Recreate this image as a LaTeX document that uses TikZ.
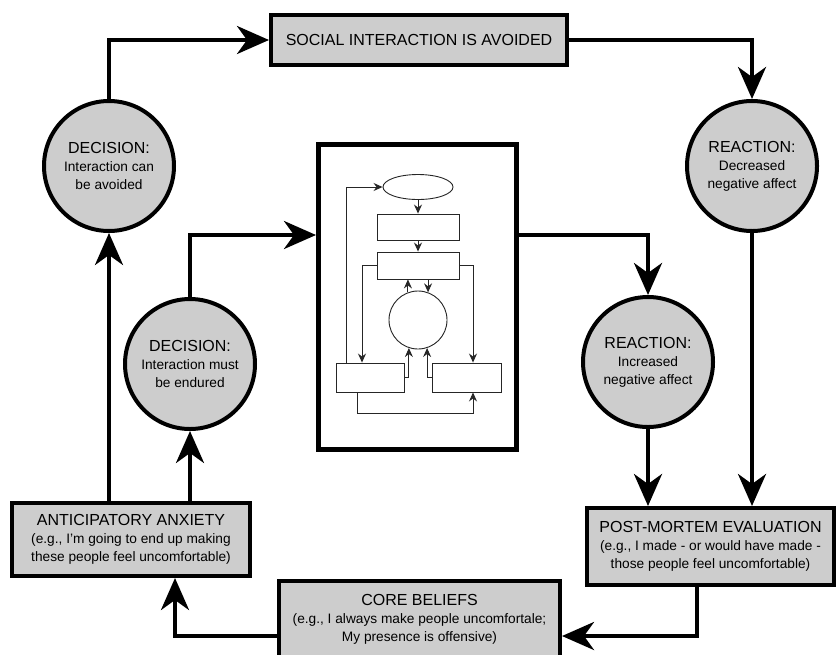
\documentclass[tikz,border=0pt]{standalone}
\usepackage{fontspec}
\setmainfont{Liberation Sans}
\usetikzlibrary{arrows.meta,shapes.geometric}
\definecolor{boxgray}{RGB}{205,205,205}
\newcommand{\ttlfont}{\fontsize{16}{18}\selectfont}
\newcommand{\dscfont}{\fontsize{13.7}{17.5}\selectfont}
\begin{document}
\begin{tikzpicture}[x=1pt,y=-1pt,
  heavy/.style={line width=4pt},
  flow/.style={heavy,-{Stealth[length=32pt,width=28pt,inset=10pt]}},
  stage/.style={draw,heavy,fill=boxgray,rectangle,align=center,inner sep=0pt,font=\ttlfont},
  choice/.style={draw,heavy,fill=boxgray,circle,align=center,minimum size=130pt,inner sep=0pt,font=\ttlfont},
  slim/.style={line width=0.9pt,draw=black!85},
  slimbox/.style={slim,rectangle,inner sep=0pt},
  tinyarrow/.style={slim,-{Stealth[length=9pt,width=8pt,inset=3pt]}},
]
\clip (0,0) rectangle (837,654);
\fill[white] (0,0) rectangle (837,654);

% main stages of the cycle
\node[stage,minimum width=296pt,minimum height=50pt] (social) at (419,40)
  {SOCIAL INTERACTION IS AVOIDED};
\node[choice] (decA) at (109,166)
  {DECISION:\\\dscfont Interaction can\\\dscfont be avoided};
\node[choice] (reactD) at (752,166)
  {REACTION:\\\dscfont Decreased\\\dscfont negative affect};
\node[choice] (decE) at (190,364)
  {DECISION:\\\dscfont Interaction must\\\dscfont be endured};
\node[choice] (reactI) at (648,362)
  {REACTION:\\\dscfont Increased\\\dscfont negative affect};
\node[stage,minimum width=238pt,minimum height=73pt] (antic) at (131,539.5)
  {ANTICIPATORY ANXIETY\\\dscfont (e.g., I'm going to end up making\\\dscfont these people feel uncomfortable)};
\node[stage,minimum width=247pt,minimum height=77pt] (post) at (710.5,546.5)
  {POST-MORTEM EVALUATION\\\dscfont (e.g., I made - or would have made -\\\dscfont those people feel uncomfortable)};
\node[stage,minimum width=281pt,minimum height=77pt] (core) at (419.5,619.5)
  {CORE BELIEFS\\\dscfont (e.g., I always make people uncomfortale;\\\dscfont My presence is offensive)};

% framed model in the middle
\node[draw,line width=5pt,fill=white,minimum width=198pt,minimum height=305pt,inner sep=0pt] (model) at (417.5,297) {};

% connectors of the cycle
\coordinate (inY) at (0,235);
\coordinate (pcX) at (697,0);
\coordinate (lowY) at (0,636);
\coordinate (acX) at (175,0);
\draw[flow] (decA.north) |- (social.west);
\draw[flow] (social.east) -| (reactD.north);
\draw[flow] (reactD.south) -- (reactD.south |- post.north);
\draw[flow] (decE.north) |- (model.west |- inY);
\draw[flow] (model.east |- inY) -| (reactI.north);
\draw[flow] (reactI.south) -- (reactI.south |- post.north);
\draw[flow] (post.south -| pcX) |- (core.east |- lowY);
\draw[flow] (core.west |- lowY) -| (antic.south -| acX);
\draw[flow] (antic.north -| decA.south) -- (decA.south);
\draw[flow] (antic.north -| decE.south) -- (decE.south);

% small flowchart inside the frame
\node[slim,ellipse,minimum width=70pt,minimum height=25pt,inner sep=0pt] (ell) at (418,187) {};
\node[slimbox,minimum width=82pt,minimum height=26pt] (ra) at (418,227) {};
\node[slimbox,minimum width=82pt,minimum height=27pt] (rb) at (418,265.5) {};
\node[slim,circle,minimum size=58pt,inner sep=0pt] (cir) at (418,320) {};
\node[slimbox,minimum width=68pt,minimum height=29pt] (bl) at (370,377.5) {};
\node[slimbox,minimum width=69pt,minimum height=29pt] (br) at (466.5,377.5) {};

\draw[tinyarrow] (ell.south) -- (ra.north);
\draw[tinyarrow] (ra.south) -- (rb.north);
\draw[tinyarrow] (rb.west) -| ([xshift=-8pt]bl.north);
\draw[tinyarrow] (rb.east) -| ([xshift=6.5pt]br.north);
\draw[tinyarrow] (cir.110) -- (cir.110 |- rb.south);
\draw[tinyarrow] (rb.south -| cir.70) -- (cir.70);
\draw[tinyarrow] (bl.east) -| (cir.252);
\draw[tinyarrow] (br.west) -| (cir.288);
\draw[tinyarrow] ([xshift=-24pt]bl.north) |- (ell.west);
\draw[tinyarrow] ([xshift=-13pt]bl.south) -- ++(0,21) -| ([xshift=6.5pt]br.south);
\end{tikzpicture}
\end{document}
